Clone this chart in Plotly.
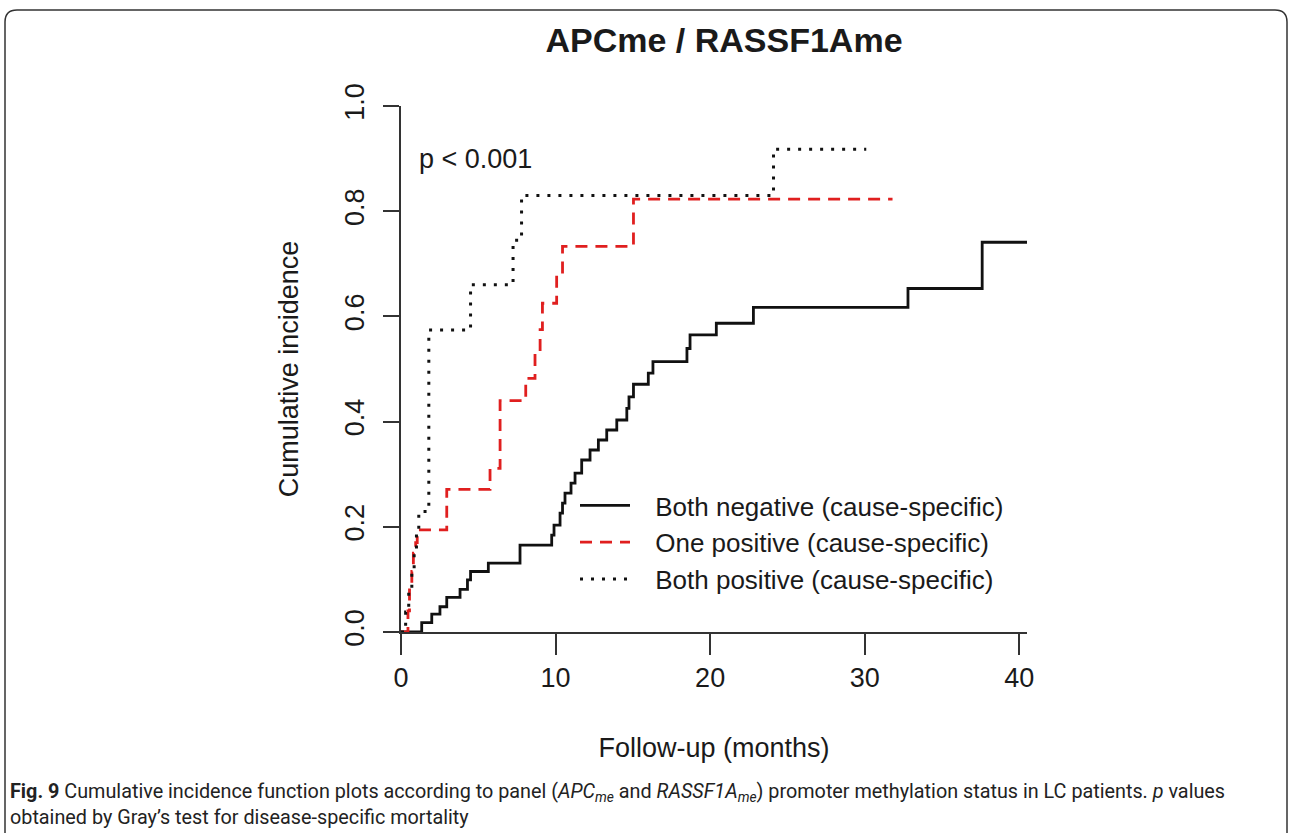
import plotly.graph_objects as go

# ---- data ----
t_neg = [0, 1.34, 1.99, 2.52, 2.96, 3.82, 4.3, 4.5, 5.65, 7.70, 9.75, 9.9, 10.29, 10.45, 10.61,
         11.0, 11.26, 11.69, 12.23, 12.77, 13.31, 13.96, 14.61, 14.75, 15.04, 16.0, 16.3, 18.5,
         18.7, 20.4, 22.8, 32.8, 37.6, 40.5]
v_neg = [0, 0.018, 0.034, 0.048, 0.066, 0.081, 0.099, 0.115, 0.131, 0.165, 0.184, 0.203, 0.226,
         0.245, 0.264, 0.283, 0.302, 0.327, 0.346, 0.365, 0.384, 0.403, 0.425, 0.447, 0.471,
         0.492, 0.514, 0.539, 0.565, 0.587, 0.617, 0.653, 0.741, 0.741]

t_one = [0, 0.45, 0.55, 0.7, 0.8, 0.95, 1.05, 2.96, 5.76, 6.41, 8.07, 8.67, 9.0, 9.15, 10.07,
         10.45, 15.04, 31.8]
v_one = [0, 0.04, 0.08, 0.115, 0.15, 0.17, 0.194, 0.271, 0.311, 0.44, 0.482, 0.53, 0.575, 0.625,
         0.678, 0.733, 0.823, 0.823]

t_pos = [0, 0.3, 0.5, 0.7, 0.85, 1.0, 1.15, 1.8, 4.5, 7.25, 7.8, 24.1, 30.1]
v_pos = [0, 0.038, 0.076, 0.115, 0.153, 0.191, 0.229, 0.574, 0.660, 0.745, 0.830, 0.918, 0.918]

series_names = ["Both negative (cause-specific)",
                "One positive (cause-specific)",
                "Both positive (cause-specific)"]
x_ticks = [0, 10, 20, 30, 40]
y_ticks = [0.0, 0.2, 0.4, 0.6, 0.8, 1.0]
y_ticklabels = ["0.0", "0.2", "0.4", "0.6", "0.8", "1.0"]

title_text = "<b>APCme / RASSF1Ame</b>"
p_text = "p < 0.001"
caption = ("<b>Fig. 9</b> Cumulative incidence function plots according to panel "
           "(<i>APC<sub>me</sub></i> and <i>RASSF1A<sub>me</sub></i>) promoter methylation status "
           "in LC patients. <i>p</i> values<br>obtained by Gray\u2019s test for disease-specific mortality")

FONT = "Liberation Sans, Arial, sans-serif"
TXT = "#1a1a1a"
GAP = "\u2002\u00a0"  # space between legend symbol and its label

fig = go.Figure()
fig.add_trace(go.Scatter(x=t_neg, y=v_neg, mode="lines", line_shape="hv",
                         line=dict(color="#111111", width=2.8), name=GAP + series_names[0]))
fig.add_trace(go.Scatter(x=t_one, y=v_one, mode="lines", line_shape="hv",
                         line=dict(color="#e01f1f", width=2.8, dash="12px,8px"), name=GAP + series_names[1]))
fig.add_trace(go.Scatter(x=t_pos, y=v_pos, mode="lines", line_shape="hv",
                         line=dict(color="#111111", width=3, dash="3px,8px"), name=GAP + series_names[2]))

W, H = 1292, 833
L, R, T, B = 401, 1027, 106, 632


def px(xp):
    return (xp - L) / (R - L)


def py(yp):
    return (B - yp) / (B - T)


fig.update_layout(
    width=W, height=H,
    margin=dict(l=L, r=W - R, t=T, b=H - B, pad=0),
    paper_bgcolor="white", plot_bgcolor="white",
    font=dict(family=FONT, color=TXT),
    title=dict(text=title_text, x=0.516, xref="paper", y=1 - 40 / H, yref="container",
               xanchor="center", yanchor="middle", font=dict(size=34, family=FONT, color=TXT)),
    showlegend=True,
    legend=dict(x=px(575), y=py(482), xanchor="left", yanchor="top", xref="paper", yref="paper",
                bgcolor="rgba(0,0,0,0)", borderwidth=0, itemwidth=50,
                font=dict(size=26, family=FONT, color=TXT), tracegroupgap=0),
    xaxis=dict(range=[0, 40.5], tickvals=x_ticks, ticktext=[str(v) for v in x_ticks],
               showgrid=False, zeroline=False, showline=True, linecolor="#333333", linewidth=1.5,
               ticks="outside", ticklen=21, tickwidth=1.5, tickcolor="#333333",
               tickfont=dict(size=27, family=FONT, color=TXT), ticklabelstandoff=0,
               title=dict(text="Follow-up (months)", standoff=46,
                          font=dict(size=27, family=FONT, color=TXT))),
    yaxis=dict(range=[0, 1], tickvals=y_ticks, ticktext=y_ticklabels, tickangle=-90,
               showgrid=False, zeroline=False, showline=True, linecolor="#333333", linewidth=1.5,
               ticks="outside", ticklen=16, tickwidth=1.5, tickcolor="#333333",
               tickfont=dict(size=27, family=FONT, color=TXT), ticklabelstandoff=8,
               title=dict(text="Cumulative incidence", standoff=34,
                          font=dict(size=27, family=FONT, color=TXT))),
)

fig.add_annotation(x=1.02, y=0.9, xref="x", yref="y", text=p_text, showarrow=False,
                   xanchor="left", yanchor="middle", font=dict(size=27, family=FONT, color=TXT))

fig.add_annotation(x=px(8), y=py(778), xref="paper", yref="paper", text=caption, showarrow=False,
                   xanchor="left", yanchor="top", align="left",
                   font=dict(size=19.8, family="Liberation Sans Narrow, Roboto, sans-serif", color="#222222"))

# rounded frame around the whole figure
x0, x1, y0, y1, r = px(5), px(1287), py(10), py(845), 12
rx, ry = r / (R - L), r / (B - T)
path = (f"M {x0+rx},{y0} L {x1-rx},{y0} Q {x1},{y0} {x1},{y0-ry} L {x1},{y1} "
        f"M {x0},{y1} L {x0},{y0-ry} Q {x0},{y0} {x0+rx},{y0}")
fig.add_shape(type="path", path=path, xref="paper", yref="paper",
              line=dict(color="#333333", width=1.5), layer="above")

fig.write_html("out.html")
